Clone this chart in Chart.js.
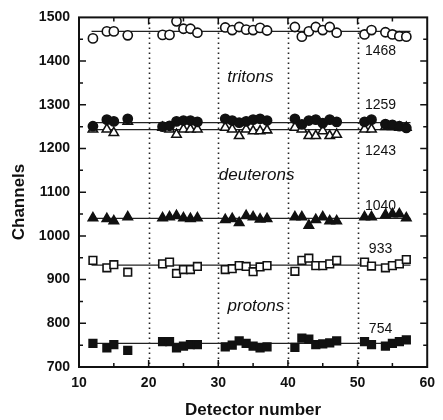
<!DOCTYPE html>
<html>
<head>
<meta charset="utf-8">
<script src="https://cdn.jsdelivr.net/npm/chart.js@4.4.1/dist/chart.umd.min.js"></script>
<style>
  html, body { margin: 0; padding: 0; background: #fff; }
  canvas { display: block; }
</style>
</head>
<body>
<canvas id="detectors" width="443" height="420"></canvas>
<script>
// Detector numbers
var detectors = [12, 14, 15, 17, 22, 23, 24, 25, 26, 27, 31, 32, 33, 34, 35, 36, 37,
                 41, 42, 43, 44, 45, 46, 47, 51, 52, 54, 55, 56, 57];

// Peak positions (channels) per detector
var tritonsHigh = [1452, 1468, 1468, 1459, 1460, 1460, 1491, 1474, 1474, 1465, 1477, 1471, 1478, 1472, 1471, 1476, 1470,
                   1478, 1456, 1468, 1478, 1471, 1478, 1465, 1461, 1471, 1466, 1461, 1457, 1456];
var tritonsLow = [1251, 1266, 1262, 1268, 1250, 1252, 1262, 1264, 1264, 1261, 1268, 1264, 1259, 1262, 1266, 1268, 1264,
                  1268, 1255, 1264, 1266, 1258, 1266, 1261, 1261, 1266, 1256, 1254, 1251, 1247];
var deuteronsHigh = [1244, 1244, 1236, 1262, 1248, 1244, 1232, 1244, 1244, 1244, 1248, 1244, 1229, 1244, 1240, 1240, 1242,
                     1248, 1244, 1229, 1229, 1240, 1229, 1232, 1244, 1244, 1250, 1250, 1248, 1248];
var deuteronsLow = [1041, 1039, 1034, 1043, 1041, 1043, 1046, 1041, 1039, 1041, 1037, 1039, 1030, 1046, 1043, 1038, 1039,
                    1043, 1043, 1024, 1037, 1043, 1034, 1034, 1043, 1043, 1048, 1050, 1050, 1041];
var protonsHigh = [944, 927, 934, 917, 936, 940, 914, 923, 923, 930, 923, 925, 932, 930, 918, 929, 932,
                   919, 944, 949, 932, 932, 936, 944, 940, 931, 927, 932, 936, 946];
var protonsLow = [754, 744, 751, 738, 758, 758, 744, 748, 751, 751, 746, 750, 760, 754, 748, 744, 746,
                  745, 766, 764, 751, 753, 755, 760, 758, 751, 748, 754, 758, 762];

// Mean levels and where their values are printed
var levels = [1468, 1259, 1243, 1040, 933, 754];
var levelLabelY = [1423, 1300, 1195, 1067, 969, 786];
var levelLabelX = 53.3;
var fitRange = [11.8, 57.6];

// Particle names
var particles = ['tritons', 'deuterons', 'protons'];
var particleX = [34.6, 35.5, 35.4];
var particleY = [1362, 1138, 839];

// Module boundaries
var boundaries = [20, 30, 40, 50];

Chart.defaults.font.family = '"Liberation Sans", Arial, sans-serif';
Chart.defaults.color = '#111';

function points(values, style, filled, radius) {
    return {
        type: 'scatter',
        data: detectors.map(function (d, i) { return { x: d, y: values[i] }; }),
        pointStyle: style,
        pointRadius: radius,
        pointBorderWidth: 1.6,
        pointBorderColor: '#111',
        pointBackgroundColor: filled ? '#111' : '#fff',
        showLine: false,
        order: 1
    };
}

function level(v) {
    return {
        type: 'line',
        data: fitRange.map(function (x) { return { x: x, y: v }; }),
        borderColor: '#222',
        borderWidth: 1.2,
        pointRadius: 0,
        fill: false,
        order: 2
    };
}

var datasets = [
    points(tritonsHigh, 'circle', false, 4.6),
    points(tritonsLow, 'circle', true, 4.6),
    points(deuteronsHigh, 'triangle', false, 5.4),
    points(deuteronsLow, 'triangle', true, 5.4),
    points(protonsHigh, 'rect', false, 5.4),
    points(protonsLow, 'rect', true, 5.4)
].concat(levels.map(level));

// Frame, inward ticks, dotted separators and text labels
var decorations = {
    id: 'decorations',
    beforeDatasetsDraw: function (chart) {
        var ctx = chart.ctx, a = chart.chartArea, xs = chart.scales.x;
        ctx.save();
        ctx.strokeStyle = '#222';
        ctx.lineWidth = 1.6;
        ctx.setLineDash([1.6, 3.4]);
        boundaries.forEach(function (b) {
            var px = Math.round(xs.getPixelForValue(b)) + 0.5;
            ctx.beginPath();
            ctx.moveTo(px, a.top);
            ctx.lineTo(px, a.bottom);
            ctx.stroke();
        });
        ctx.restore();
    },
    afterDatasetsDraw: function (chart) {
        var ctx = chart.ctx, a = chart.chartArea, xs = chart.scales.x, ys = chart.scales.y;
        ctx.save();
        ctx.strokeStyle = '#111';
        ctx.lineWidth = 2;
        ctx.strokeRect(a.left, a.top, a.right - a.left, a.bottom - a.top);

        ctx.lineWidth = 1.5;
        ctx.beginPath();
        for (var v = 750; v < 1500; v += 50) {
            var py = ys.getPixelForValue(v);
            var len = v % 100 === 0 ? 7 : 4;
            ctx.moveTo(a.left, py); ctx.lineTo(a.left + len, py);
            ctx.moveTo(a.right, py); ctx.lineTo(a.right - len, py);
        }
        for (var d = 15; d < 60; d += 5) {
            var px = xs.getPixelForValue(d);
            var l = d % 10 === 0 ? 7 : 4;
            ctx.moveTo(px, a.bottom); ctx.lineTo(px, a.bottom - l);
            ctx.moveTo(px, a.top); ctx.lineTo(px, a.top + l);
        }
        ctx.stroke();

        ctx.fillStyle = '#111';
        ctx.textAlign = 'center';
        ctx.textBaseline = 'middle';
        ctx.font = '14px "Liberation Sans", Arial, sans-serif';
        levels.forEach(function (v, i) {
            ctx.fillText(String(v), xs.getPixelForValue(levelLabelX), ys.getPixelForValue(levelLabelY[i]));
        });

        ctx.font = 'italic 17px "Liberation Sans", Arial, sans-serif';
        particles.forEach(function (name, i) {
            ctx.fillText(name, xs.getPixelForValue(particleX[i]), ys.getPixelForValue(particleY[i]));
        });

        ctx.font = 'bold 17px "Liberation Sans", Arial, sans-serif';
        ctx.fillText('Detector number', (a.left + a.right) / 2, 410);
        ctx.translate(19, 202);
        ctx.rotate(-Math.PI / 2);
        ctx.fillText('Channels', 0, 0);
        ctx.restore();
    }
};

var ctx = document.getElementById('detectors').getContext('2d');
var chart = new Chart(ctx, {
    type: 'scatter',
    data: { datasets: datasets },
    options: {
        responsive: false,
        animation: false,
        layout: { padding: { top: 11, right: 12, left: 0, bottom: 0 } },
        scales: {
            x: {
                type: 'linear',
                min: 10,
                max: 60,
                grid: { display: false, drawTicks: false },
                border: { display: false },
                ticks: {
                    stepSize: 10, padding: 8, font: { size: 14, weight: 'bold' },
                    callback: function (value) { return String(value); }
                },
                afterFit: function (scale) { scale.height = 53; }
            },
            y: {
                min: 700,
                max: 1500,
                grid: { display: false, drawTicks: false },
                border: { display: false },
                ticks: {
                    stepSize: 100, padding: 9, font: { size: 14, weight: 'bold' },
                    callback: function (value) { return String(value); }
                },
                afterFit: function (scale) { scale.width = 79; }
            }
        },
        plugins: {
            legend: { display: false },
            tooltip: { enabled: false }
        }
    },
    plugins: [decorations]
});
</script>
</body>
</html>
